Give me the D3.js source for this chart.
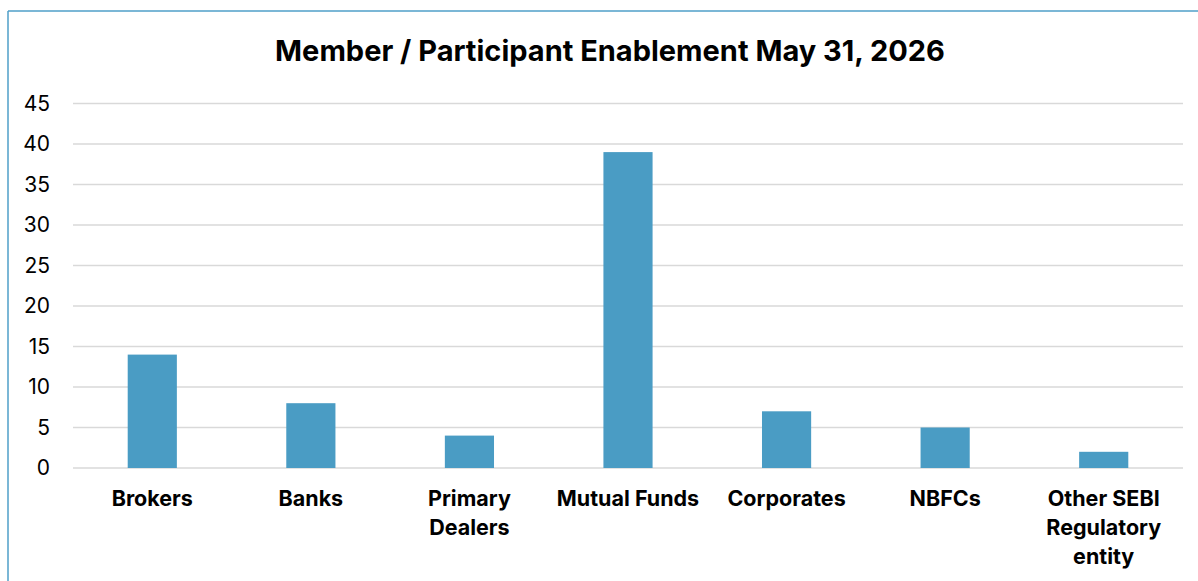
<!DOCTYPE html>
<html>
<head>
<meta charset="utf-8">
<script src="https://cdn.jsdelivr.net/npm/d3@7"></script>
<style>
  body { margin: 0; background: #fff; }
  svg { display: block; font-family: Inter, "Noto Sans", sans-serif; }
</style>
</head>
<body>
<svg id="chart" width="1198" height="581"></svg>
<script>
// data
const categories = ["Brokers", "Banks", "Primary Dealers", "Mutual Funds", "Corporates", "NBFCs", "Other SEBI Regulatory entity"];
const values = [14, 8, 4, 39, 7, 5, 2];
// how the category labels break into lines
const labelLines = [["Brokers"], ["Banks"], ["Primary", "Dealers"], ["Mutual Funds"], ["Corporates"], ["NBFCs"], ["Other SEBI", "Regulatory", "entity"]];
const yTicks = [0, 5, 10, 15, 20, 25, 30, 35, 40, 45];

const svg = d3.select("#chart");
const W = 1198, H = 581;
const margin = {left: 73, right: 15, top: 103.5, bottom: 113};

// chart border (only top + left edge visible in the crop)
svg.append("line").attr("x1", 8).attr("x2", W).attr("y1", 11).attr("y2", 11)
  .attr("stroke", "#4f9fc9").attr("stroke-width", 1.5);
svg.append("line").attr("x1", 8).attr("x2", 8).attr("y1", 11).attr("y2", H)
  .attr("stroke", "#4f9fc9").attr("stroke-width", 1.5);

const x = d3.scaleBand()
  .domain(categories)
  .range([margin.left, W - margin.right])
  .paddingInner(0.69)
  .paddingOuter(0.345);

const y = d3.scaleLinear()
  .domain([0, 45])
  .range([H - margin.bottom, margin.top]);

// gridlines
svg.append("g")
  .selectAll("line")
  .data(yTicks)
  .join("line")
  .attr("x1", margin.left)
  .attr("x2", W - margin.right)
  .attr("y1", d => y(d))
  .attr("y2", d => y(d))
  .attr("stroke", "#d9d9d9")
  .attr("stroke-width", 1.5);

// y axis labels
const yAxis = d3.axisLeft(y).tickValues(yTicks).tickSize(0).tickPadding(0);
svg.append("g")
  .attr("transform", `translate(50,0)`)
  .call(yAxis)
  .call(g => g.select(".domain").remove())
  .selectAll("text")
  .attr("font-family", "Inter, 'Noto Sans', sans-serif")
  .attr("font-size", 21)
  .attr("fill", "#000");

// bars
svg.append("g")
  .selectAll("rect")
  .data(values)
  .join("rect")
  .attr("x", (d, i) => x(categories[i]))
  .attr("width", x.bandwidth())
  .attr("y", d => y(d))
  .attr("height", d => y(0) - y(d))
  .attr("fill", "#4a9cc4");

// category labels
const xl = svg.append("g")
  .selectAll("text")
  .data(categories)
  .join("text")
  .attr("x", d => x(d) + x.bandwidth() / 2)
  .attr("y", 506)
  .attr("text-anchor", "middle")
  .attr("font-size", 21.5)
  .attr("font-weight", "bold")
  .attr("fill", "#000");
xl.selectAll("tspan")
  .data((d, i) => labelLines[i])
  .join("tspan")
  .attr("x", function () { return this.parentNode.getAttribute("x"); })
  .attr("dy", (d, j) => j === 0 ? 0 : 29)
  .text(d => d);

// title
svg.append("text")
  .attr("x", 610)
  .attr("y", 61)
  .attr("text-anchor", "middle")
  .attr("font-size", 29)
  .attr("font-weight", "bold")
  .attr("fill", "#000")
  .text("Member / Participant Enablement May 31, 2026");
</script>
</body>
</html>
